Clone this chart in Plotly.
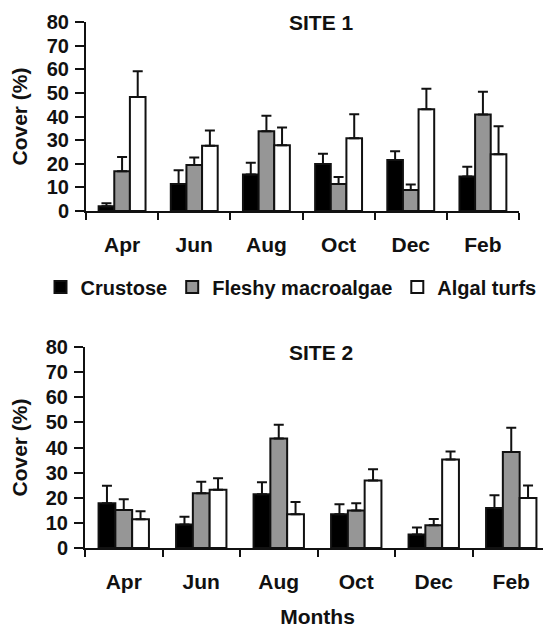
import plotly.graph_objects as go

months = ["Apr", "Jun", "Aug", "Oct", "Dec", "Feb"]
series_names = ["Crustose", "Fleshy macroalgae", "Algal turfs"]
colors = ["#000000", "#969696", "#ffffff"]

# SITE 1 means and upper error (SE)
s1_crustose = [2.0, 11.4, 15.4, 19.9, 21.6, 14.6]
s1_crustose_err = [1.3, 5.8, 5.0, 4.3, 3.7, 4.1]
s1_fleshy = [16.8, 19.5, 33.8, 11.4, 8.9, 40.8]
s1_fleshy_err = [6.1, 3.1, 6.5, 3.0, 2.3, 9.7]
s1_turfs = [48.3, 27.6, 27.8, 30.8, 43.1, 24.0]
s1_turfs_err = [10.9, 6.5, 7.5, 10.2, 8.6, 11.9]

# SITE 2 means and upper error (SE)
s2_crustose = [17.8, 9.4, 21.4, 13.4, 5.4, 15.9]
s2_crustose_err = [7.0, 3.0, 4.8, 4.0, 2.8, 5.1]
s2_fleshy = [15.1, 21.8, 43.6, 14.9, 9.1, 38.2]
s2_fleshy_err = [4.3, 4.6, 5.5, 2.9, 2.4, 9.7]
s2_turfs = [11.4, 23.2, 13.4, 26.9, 35.2, 19.9]
s2_turfs_err = [3.2, 4.6, 4.9, 4.4, 3.2, 5.0]

# page body has an 8px default margin: figure placed at (8, 8)
OFF = 8
W, H = 551 - OFF, 628 - OFF
FONT = "Liberation Sans"
TXT = "#111111"


def px(x):
    return (x - OFF) / W


def py(y):
    return 1 - (y - OFF) / H


fig = go.Figure()

site1 = [(s1_crustose, s1_crustose_err), (s1_fleshy, s1_fleshy_err), (s1_turfs, s1_turfs_err)]
site2 = [(s2_crustose, s2_crustose_err), (s2_fleshy, s2_fleshy_err), (s2_turfs, s2_turfs_err)]

for i, (vals, err) in enumerate(site1):
    fig.add_trace(go.Bar(
        x=months, y=vals, name=series_names[i], xaxis="x", yaxis="y",
        marker=dict(color=colors[i], line=dict(color="#111111", width=2)),
        error_y=dict(type="data", symmetric=False, array=err, arrayminus=[0] * len(err),
                     color="#111111", thickness=2, width=5),
        legendgroup=series_names[i], showlegend=True,
    ))
for i, (vals, err) in enumerate(site2):
    fig.add_trace(go.Bar(
        x=months, y=vals, name=series_names[i], xaxis="x2", yaxis="y2",
        marker=dict(color=colors[i], line=dict(color="#111111", width=2)),
        error_y=dict(type="data", symmetric=False, array=err, arrayminus=[0] * len(err),
                     color="#111111", thickness=2, width=5),
        legendgroup=series_names[i], showlegend=False,
    ))

ytickfont = dict(family=FONT, size=20, color=TXT, weight="bold")
xtickfont = dict(family=FONT, size=21, color=TXT, weight="bold")
titlefont = dict(family=FONT, size=21, color=TXT, weight="bold")
legendfont = dict(family=FONT, size=20, color=TXT, weight="bold")


def xax(domain, anchor, title=None):
    d = dict(domain=domain, anchor=anchor, type="category", tickson="boundaries",
             ticks="outside", ticklen=7, tickwidth=2, tickcolor="#111111",
             showline=True, linecolor="#111111", linewidth=2, showgrid=False,
             zeroline=False, tickfont=xtickfont, ticklabelstandoff=14,
             automargin=False, fixedrange=True)
    if title:
        d["title"] = dict(text=title, font=titlefont, standoff=22)
    return d


def yax(domain, anchor):
    return dict(domain=domain, anchor=anchor, range=[0, 80], dtick=10,
                ticks="outside", ticklen=9, tickwidth=2, tickcolor="#111111",
                showline=True, linecolor="#111111", linewidth=2, showgrid=False,
                zeroline=False, tickfont=ytickfont, ticklabelstandoff=2,
                title=dict(text="Cover (%)", font=titlefont, standoff=14),
                automargin=False, fixedrange=True)


fig.update_layout(
    width=W, height=H,
    margin=dict(l=0, r=0, t=0, b=0, pad=0, autoexpand=False),
    paper_bgcolor="white", plot_bgcolor="white",
    barmode="group", bargap=0.35, bargroupgap=0,
    xaxis=xax([px(86), px(519)], "y"),
    yaxis=yax([py(211), py(22)], "x"),
    xaxis2=xax([px(85), px(550)], "y2", "Months"),
    yaxis2=yax([py(548), py(347)], "x2"),
    showlegend=True,
    legend=dict(orientation="h", x=px(291), xanchor="center", y=py(287), yanchor="middle",
                font=legendfont, itemclick=False, itemdoubleclick=False,
                bgcolor="rgba(0,0,0,0)", tracegroupgap=0),
    annotations=[
        dict(text="SITE 1", x=px(321), y=py(22), xref="paper", yref="paper",
             showarrow=False, xanchor="center", yanchor="middle", font=titlefont),
        dict(text="SITE 2", x=px(321), y=py(353), xref="paper", yref="paper",
             showarrow=False, xanchor="center", yanchor="middle", font=titlefont),
    ],
)

fig.write_html("out.html", config={"displayModeBar": False})
